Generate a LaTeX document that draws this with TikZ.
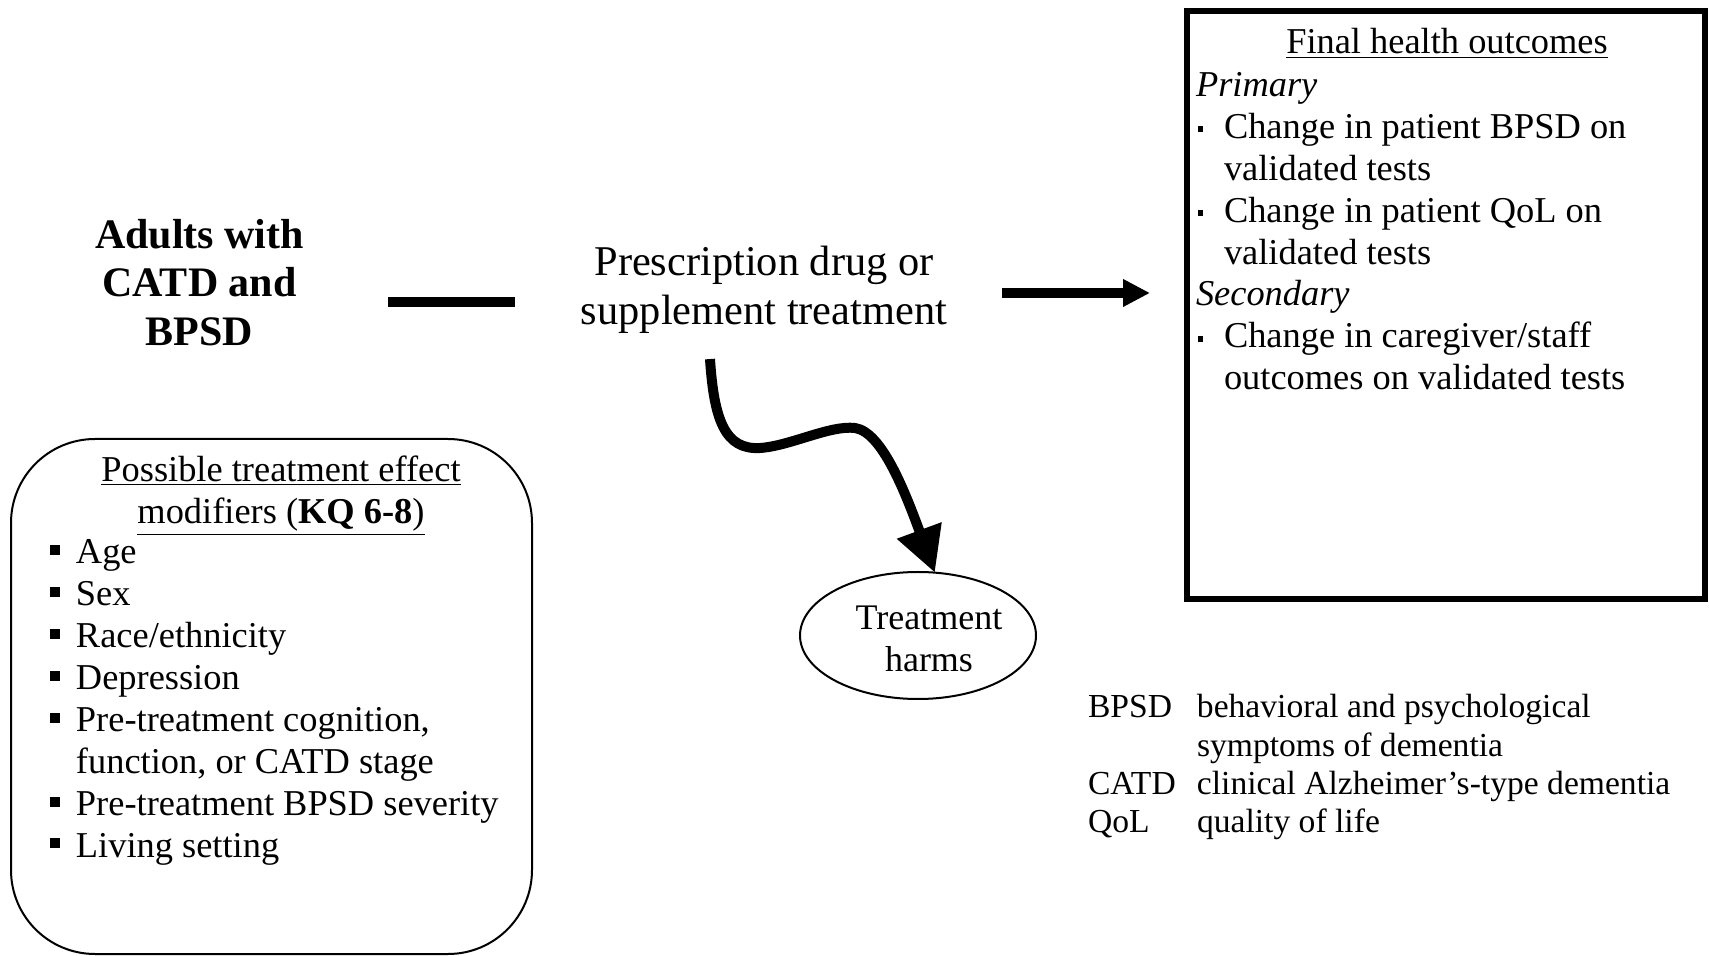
\documentclass[tikz,border=0pt]{standalone}
\usepackage{fontspec}
\setmainfont{Liberation Serif}
\usetikzlibrary{arrows.meta,shapes.geometric,calc}

% list bullets: large square (modifier list) and small square (outcome list)
\newcommand{\bigbul}{\makebox[13pt][l]{\rule[4.4pt]{5pt}{5pt}}}
\newcommand{\smallbul}{\makebox[14pt][l]{\hspace{1pt}\rule[3pt]{2.6pt}{3pt}}}

\begin{document}
\begin{tikzpicture}[x=0.5pt,y=-0.5pt,
  every node/.style={inner sep=0pt,outer sep=0pt},
  headtxt/.style={font=\fontsize{21}{24.25}\selectfont\bfseries},
  midtxt/.style={font=\fontsize{21.2}{24.25}\selectfont},
  boxtxt/.style={font=\fontsize{18.2}{20.95}\selectfont},
  legtxt/.style={font=\fontsize{16.8}{19.15}\selectfont},
  thickline/.style={line width=5pt},
  bigarrow/.style={line width=5pt,-{Triangle[length=13.5pt,width=13pt]}},
  wavyarrow/.style={line width=5pt,-{Triangle[length=22.5pt,width=22.5pt]}},
  outframe/.style={draw,line width=2.75pt,minimum width=259pt,minimum height=294pt,anchor=north west},
  modframe/.style={draw,line width=1pt,rounded corners=42pt,minimum width=260.5pt,minimum height=257.5pt,anchor=north west},
  harmframe/.style={draw,ellipse,line width=1pt,minimum width=118pt,minimum height=63.5pt}]

\useasboundingbox (0,0) rectangle (1709,956);

% population
\node[headtxt,anchor=base] (adults) at (199.5,248.5)
  {\begin{tabular}[t]{@{}c@{}}Adults with\\CATD and\\BPSD\end{tabular}};

% intervention
\node[midtxt,anchor=base] (rx) at (764,276)
  {\begin{tabular}[t]{@{}c@{}}Prescription drug or\\supplement treatment\end{tabular}};

% outcomes box
\node[outframe] (outbox) at (1187,11) {};
\node[boxtxt,anchor=base] (outtitle) at (1447,54) {\underline{Final health outcomes}};
\node[boxtxt,anchor=base west] (outlist) at (1196,96.5)
  {\begin{tabular}[t]{@{}l@{}}
   \textit{Primary}\\
   \smallbul Change in patient BPSD on\\
   \hspace*{14pt}validated tests\\
   \smallbul Change in patient QoL on\\
   \hspace*{14pt}validated tests\\
   \textit{Secondary}\\
   \smallbul Change in caregiver/staff\\
   \hspace*{14pt}outcomes on validated tests
   \end{tabular}};

% effect modifiers box
\node[modframe] (modbox) at (11,439) {};
\node[boxtxt,anchor=base] (modtitle) at (281,481.5)
  {\begin{tabular}[t]{@{}c@{}}\underline{Possible treatment effect}\\
   \underline{modifiers (\textbf{KQ 6-8})}\end{tabular}};
\node[boxtxt,anchor=base west] (modlist) at (50,564)
  {\begin{tabular}[t]{@{}l@{}}
   \bigbul Age\\
   \bigbul Sex\\
   \bigbul Race/ethnicity\\
   \bigbul Depression\\
   \bigbul Pre-treatment cognition,\\
   \hspace*{13pt}function, or CATD stage\\
   \bigbul Pre-treatment BPSD severity\\
   \bigbul Living setting
   \end{tabular}};

% harms
\node[harmframe] (harms) at (918,635.5) {};
\node[font=\fontsize{18}{21}\selectfont] (harmstxt) at ($(harms.center)+(11,6.5)$)
  {\begin{tabular}{@{}c@{}}Treatment\\harms\end{tabular}};

% abbreviations
\node[legtxt,anchor=base west] (legend) at (1088,718)
  {\begin{tabular}[t]{@{}p{54.5pt}@{}l@{}}
   BPSD & behavioral and psychological\\
        & symptoms of dementia\\
   CATD & clinical Alzheimer’s-type dementia\\
   QoL  & quality of life
   \end{tabular}};

% connectors
\coordinate (lvlA) at (0,302);
\coordinate (lvlB) at (0,293);
\draw[thickline,shorten <=42pt,shorten >=33pt] (adults.east |- lvlA) -- (rx.west |- lvlA);
\draw[bigarrow,shorten <=27.5pt,shorten >=18.5pt] (rx.east |- lvlB) -- (outbox.west |- lvlB);
\draw[wavyarrow] ($(rx.south)+(-54,20)$)
  .. controls (714,420) and (725,450) .. (760,448)
  .. controls (790,446) and (830,425) .. (855,428)
  .. controls (882,432) and (905,492) .. (harms.75);

\end{tikzpicture}
\end{document}
